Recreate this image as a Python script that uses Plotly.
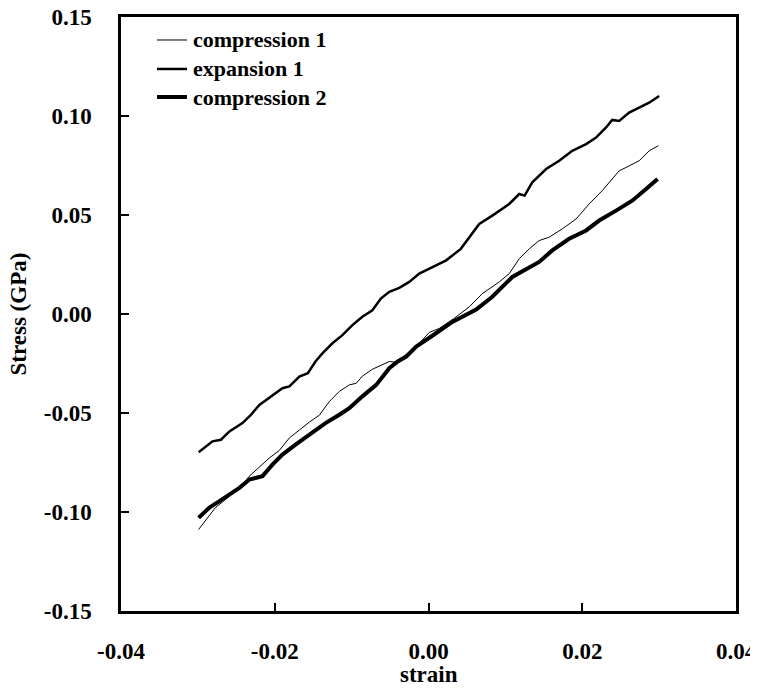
import plotly.graph_objects as go

# ---- data (strain, stress in GPa) ----
comp1_strain = [-0.0299, -0.0290, -0.0277, -0.0264, -0.0246, -0.0233, -0.0220, -0.0207, -0.0194,
                -0.0181, -0.0168, -0.0155, -0.0142, -0.0129, -0.0116, -0.0103, -0.0094, -0.0086,
                -0.0073, -0.0064, -0.0051, -0.0041, -0.0025, -0.0012, 0.0001, 0.0014, 0.0033,
                0.0053, 0.0070, 0.0092, 0.0105, 0.0118, 0.0131, 0.0144, 0.0157, 0.0174, 0.0192,
                0.0209, 0.0226, 0.0239, 0.0248, 0.0261, 0.0274, 0.0287, 0.0299]
comp1_stress = [-0.1088, -0.1045, -0.0977, -0.0937, -0.0878, -0.0819, -0.0772, -0.0727, -0.0689,
                -0.0626, -0.0586, -0.0546, -0.0511, -0.0442, -0.0391, -0.0358, -0.0350, -0.0314,
                -0.0279, -0.0262, -0.0240, -0.0244, -0.0189, -0.0148, -0.0093, -0.0073, -0.0023,
                0.0036, 0.0103, 0.0162, 0.0204, 0.0279, 0.0329, 0.0371, 0.0388, 0.0430, 0.0480,
                0.0556, 0.0623, 0.0682, 0.0723, 0.0748, 0.0774, 0.0824, 0.0850]

exp1_strain = [-0.0299, -0.0281, -0.0270, -0.0259, -0.0242, -0.0231, -0.0220, -0.0205, -0.0190,
               -0.0181, -0.0168, -0.0157, -0.0147, -0.0138, -0.0125, -0.0112, -0.0099, -0.0086,
               -0.0073, -0.0062, -0.0051, -0.0038, -0.0025, -0.0012, 0.0005, 0.0023, 0.0042,
               0.0053, 0.0066, 0.0083, 0.0105, 0.0118, 0.0125, 0.0135, 0.0153, 0.0170, 0.0187,
               0.0205, 0.0218, 0.0231, 0.0239, 0.0248, 0.0261, 0.0274, 0.0287, 0.0300]
exp1_stress = [-0.0698, -0.0643, -0.0635, -0.0593, -0.0551, -0.0509, -0.0459, -0.0417, -0.0375,
               -0.0366, -0.0316, -0.0299, -0.0240, -0.0199, -0.0148, -0.0107, -0.0056, -0.0014,
               0.0019, 0.0078, 0.0112, 0.0132, 0.0162, 0.0204, 0.0237, 0.0271, 0.0329,
               0.0388, 0.0455, 0.0497, 0.0556, 0.0606, 0.0598, 0.0665, 0.0732, 0.0774, 0.0824,
               0.0858, 0.0891, 0.0942, 0.0980, 0.0975, 0.1017, 0.1042, 0.1067, 0.1101]

comp2_strain = [-0.0299, -0.0285, -0.0272, -0.0259, -0.0246, -0.0233, -0.0216, -0.0203, -0.0190,
                -0.0173, -0.0155, -0.0134, -0.0116, -0.0103, -0.0086, -0.0068, -0.0051, -0.0040,
                -0.0029, -0.0016, 0.0005, 0.0031, 0.0062, 0.0083, 0.0109, 0.0127, 0.0144,
                0.0161, 0.0183, 0.0205, 0.0222, 0.0244, 0.0265, 0.0283, 0.0298]
comp2_stress = [-0.1029, -0.0978, -0.0945, -0.0911, -0.0878, -0.0836, -0.0819, -0.0761, -0.0710,
                -0.0660, -0.0610, -0.0551, -0.0509, -0.0476, -0.0416, -0.0358, -0.0274, -0.0240,
                -0.0215, -0.0165, -0.0110, -0.0040, 0.0023, 0.0087, 0.0187, 0.0229, 0.0263,
                0.0321, 0.0380, 0.0422, 0.0472, 0.0522, 0.0572, 0.0631, 0.0682]

series_names = ["compression 1", "expansion 1", "compression 2"]

x_ticks = [-0.04, -0.02, 0.00, 0.02, 0.04]
x_labels = ["-0.04", "-0.02", "0.00", "0.02", "0.04"]
y_ticks = [-0.15, -0.10, -0.05, 0.00, 0.05, 0.10, 0.15]
y_labels = ["-0.15", "-0.10", "-0.05", "0.00", "0.05", "0.10", "0.15"]

FONT = "Liberation Serif, Times New Roman, serif"
TICKFONT = dict(family=FONT, size=23, color="black", weight="bold")
LINE_WIDTHS = [1, 2.5, 4]

fig = go.Figure()
for name, xs, ys, w in zip(series_names,
                           [comp1_strain, exp1_strain, comp2_strain],
                           [comp1_stress, exp1_stress, comp2_stress],
                           LINE_WIDTHS):
    fig.add_trace(go.Scatter(x=xs, y=ys, mode="lines", name=name,
                             line=dict(color="black", width=w), showlegend=False))

axis_common = dict(showline=True, linecolor="black", linewidth=2.5, mirror=True,
                   showgrid=False, zeroline=False, ticks="inside", ticklen=8,
                   tickwidth=2, tickcolor="black", automargin=False, tickfont=TICKFONT,
                   ticklabeloverflow="allow")

fig.update_xaxes(range=[-0.04, 0.04], tickvals=x_ticks, ticktext=x_labels,
                 ticklabelstandoff=18, **axis_common)
fig.update_yaxes(range=[-0.15, 0.15], tickvals=y_ticks, ticktext=y_labels,
                 ticklabelstandoff=22, **axis_common)

fig.add_annotation(text="strain", xref="paper", yref="paper", x=0.5, y=0,
                   xanchor="center", yanchor="top", yshift=-49, showarrow=False,
                   font=dict(family=FONT, size=23, color="black", weight="bold"))
fig.add_annotation(text="Stress (GPa)", xref="paper", yref="paper", x=0, y=0.5,
                   xanchor="right", yanchor="middle", xshift=-89, textangle=-90,
                   showarrow=False,
                   font=dict(family=FONT, size=23, color="black", weight="bold"))

# legend drawn in the upper-left corner of the plot area (sample line + label)
legend_rows = [0.9613, 0.9125, 0.8653]
for name, w, yy in zip(series_names, LINE_WIDTHS, legend_rows):
    fig.add_shape(type="line", xref="paper", yref="paper", x0=0.0585, x1=0.1073,
                  y0=yy, y1=yy, line=dict(color="black", width=w))
    fig.add_annotation(text=name, xref="paper", yref="paper", x=0.114, y=yy,
                       xanchor="left", yanchor="middle", showarrow=False,
                       font=dict(family=FONT, size=22, color="black", weight="bold"))

# page body adds an 8px offset; figure sized to fit inside the window with the
# plot area where the reference has it
fig.update_layout(
    width=750, height=677,
    margin=dict(l=113, r=22, t=9, b=74, autoexpand=False),
    paper_bgcolor="white", plot_bgcolor="white",
    showlegend=False,
)

fig.write_html("out.html")
